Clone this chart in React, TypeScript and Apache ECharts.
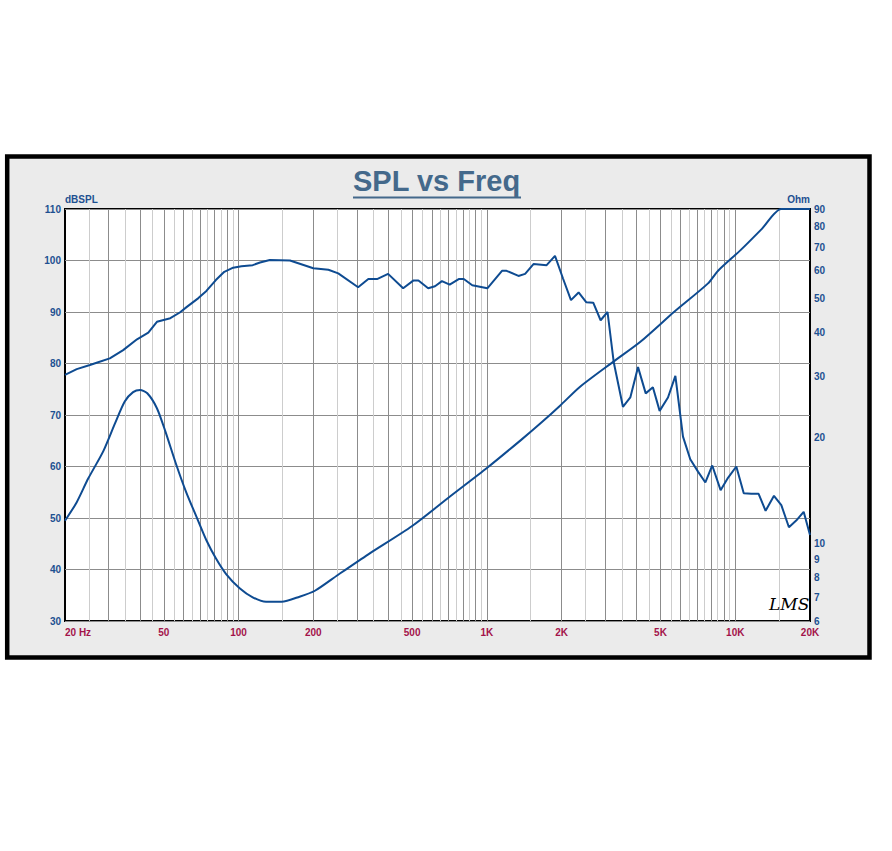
import React, { useEffect, useRef } from "react";
import * as echarts from "echarts";

// SPL response (Hz, dB SPL) — left axis
const splFreq = [
  20, 22.3, 25.2, 27, 30.3, 34.3, 39, 43.3, 46.9, 53.1, 58, 61.9, 68.9, 74.2, 81, 87.6, 95.1,
  102.7, 114, 122, 133.6, 161, 200, 230, 252, 303, 333, 361, 400, 460, 505, 530, 580, 618, 659,
  708, 770, 807, 873, 1004, 1150, 1200, 1340, 1425, 1540, 1740, 1880, 2025, 2180, 2340, 2510,
  2680, 2870, 3060, 3240, 3530, 3780, 4060, 4360, 4660, 4960, 5360, 5740, 6160, 6590, 7080,
  7580, 8080, 8730, 9350, 10100, 10820, 11610, 12420, 13250, 14320, 15330, 16450, 17600, 18860,
  20000,
];
const splDb = [
  77.8, 78.9, 79.7, 80.2, 81.0, 82.6, 84.7, 86.0, 88.1, 88.8, 89.9, 91.0, 92.7, 94.1, 96.2, 97.8,
  98.6, 98.9, 99.1, 99.6, 100.1, 100.0, 98.5, 98.2, 97.5, 94.8, 96.4, 96.4, 97.4, 94.6, 96.1,
  96.1, 94.6, 95.0, 96.0, 95.3, 96.4, 96.4, 95.2, 94.6, 98.0, 98.0, 97.0, 97.4, 99.3, 99.1,
  100.9, 96.5, 92.3, 93.8, 91.9, 91.8, 88.4, 90.0, 80.3, 71.6, 73.4, 79.3, 74.2, 75.4, 70.8,
  73.4, 77.6, 65.8, 61.4, 59.0, 56.9, 60.2, 55.4, 57.8, 60.0, 54.8, 54.7, 54.7, 51.4, 54.3,
  52.5, 48.2, 49.5, 51.2, 46.7,
];

// Impedance (Hz, Ohm) — right axis
const impFreq = [
  20, 22.3, 24.8, 28.5, 31.8, 34.8, 37.6, 40.1, 42.9, 46.9, 50.8, 55.9, 61.5, 67.7, 74.2, 81,
  89.1, 101, 114, 129, 149, 176, 203, 251, 333, 500, 710, 1000, 1370, 1644, 1970, 2360, 3232,
  4150, 5680, 7770, 8530, 10530, 12800, 15300, 17500, 20000,
];
const impOhm = [
  11.6, 13.1, 15.3, 18.3, 22.0, 25.4, 27.0, 27.4, 26.8, 24.3, 20.8, 16.9, 14.0, 11.9, 10.2, 9.06,
  8.17, 7.44, 7.01, 6.81, 6.81, 7.04, 7.32, 8.12, 9.3, 11.2, 13.6, 16.4, 19.7, 22.0, 24.7, 27.9,
  33.0, 37.6, 45.8, 55.2, 60.0, 68.8, 79.0, 90, 90, 90,
];

// Axis ticks
const freqTicks = [20, 50, 100, 200, 500, 1000, 2000, 5000, 10000, 20000];
const freqTickLabels = ["20 Hz", "50", "100", "200", "500", "1K", "2K", "5K", "10K", "20K"];
const ohmTicks = [6, 7, 8, 9, 10, 20, 30, 40, 50, 60, 70, 80, 90];

// Vertical grid lines
const majorGridFreqs = [
  30, 40, 50, 60, 70, 80, 90, 100, 200, 300, 400, 500, 600, 700, 800, 900, 1000, 2000, 3000,
  4000, 5000, 6000, 7000, 8000, 9000, 10000,
];
const minorGridFreqs = [
  25, 35, 45, 55, 65, 75, 85, 95, 150, 250, 350, 450, 550, 650, 750, 850, 950, 1500, 2500, 3500,
  4500, 5500, 6500, 7500, 8500, 9500, 15000,
];

const LINE_BLUE = "#0e4b91";
const LABEL_BLUE = "#1d5091";
const LABEL_RED = "#a3134a";
const TITLE_BLUE = "#44698b";
const FONT = "'Liberation Sans', Arial, sans-serif";

export default function App() {
  const ref = useRef<HTMLDivElement>(null);

  useEffect(() => {
    if (!ref.current) return;
    const chart = echarts.init(ref.current, undefined, { renderer: "svg" });

    const labelBase = { fontFamily: FONT, fontWeight: "bold" as const, fontSize: 10 };

    const gridSeries = (freqs: number[], color: string) => ({
      type: "line",
      data: [],
      silent: true,
      z: 1,
      xAxisIndex: 0,
      yAxisIndex: 0,
      markLine: {
        silent: true,
        symbol: ["none", "none"],
        label: { show: false },
        emphasis: { disabled: true },
        lineStyle: { color, width: 1, type: "solid" },
        data: freqs.map((f) => ({ xAxis: f })),
      },
    });

    chart.setOption({
      animation: false,
      backgroundColor: "#ffffff",
      title: {
        text: "SPL vs Freq",
        left: 353,
        top: 166,
        padding: 0,
        textStyle: { fontFamily: FONT, fontWeight: "bold", fontSize: 29, color: TITLE_BLUE },
      },
      graphic: [
        {
          type: "rect",
          z: -10,
          silent: true,
          shape: { x: 7.2, y: 156.5, width: 862.3, height: 501 },
          style: { fill: "#ebebeb", stroke: "#000000", lineWidth: 4.5 },
        },
        {
          type: "line",
          silent: true,
          shape: { x1: 353, y1: 197.5, x2: 521, y2: 197.5 },
          style: { stroke: TITLE_BLUE, lineWidth: 2 },
        },
        {
          type: "text",
          silent: true,
          z: 10,
          x: 769,
          y: 595,
          style: { text: "LMS", font: "italic 17px 'DejaVu Serif'", fill: "#000000" },
        },
      ],
      grid: {
        left: 65,
        top: 209,
        width: 745,
        height: 412,
        show: true,
        backgroundColor: "#ffffff",
        borderColor: "#000000",
        borderWidth: 2,
        z: 0,
      },
      xAxis: {
        type: "log",
        logBase: 10,
        min: 20,
        max: 20000,
        axisLine: { show: false },
        axisTick: { show: false },
        splitLine: { show: false },
        axisLabel: {
          ...labelBase,
          color: LABEL_RED,
          margin: 6,
          customValues: freqTicks,
          alignMinLabel: "left",
          formatter: (v: number) => {
            const i = freqTicks.findIndex((t) => Math.abs(t - v) / t < 0.01);
            return i >= 0 ? freqTickLabels[i] : "";
          },
        },
      },
      yAxis: [
        {
          type: "value",
          position: "left",
          min: 30,
          max: 110,
          interval: 10,
          name: "dBSPL",
          nameLocation: "end",
          nameGap: 3,
          nameTextStyle: { ...labelBase, color: LABEL_BLUE, align: "left" },
          axisLine: { show: false },
          axisTick: { show: false },
          splitLine: { show: true, lineStyle: { color: "#8c8c8c", width: 1 } },
          axisLabel: { ...labelBase, color: LABEL_BLUE, margin: 4 },
        },
        {
          type: "log",
          logBase: 10,
          position: "right",
          min: 6,
          max: 90,
          name: "Ohm",
          nameLocation: "end",
          nameGap: 3,
          nameTextStyle: { ...labelBase, color: LABEL_BLUE, align: "right" },
          axisLine: { show: false },
          axisTick: { show: false },
          splitLine: { show: false },
          axisLabel: {
            ...labelBase,
            color: LABEL_BLUE,
            margin: 4,
            customValues: ohmTicks,
            formatter: (v: number) => String(Math.round(v)),
          },
        },
      ],
      series: [
        gridSeries(minorGridFreqs, "#cdcdcd"),
        gridSeries(majorGridFreqs, "#8c8c8c"),
        {
          name: "SPL",
          type: "line",
          xAxisIndex: 0,
          yAxisIndex: 0,
          z: 5,
          symbol: "none",
          silent: true,
          lineStyle: { color: LINE_BLUE, width: 2 },
          data: splFreq.map((f, i) => [f, splDb[i]]),
        },
        {
          name: "Impedance",
          type: "line",
          xAxisIndex: 0,
          yAxisIndex: 1,
          z: 5,
          symbol: "none",
          silent: true,
          smooth: 0.25,
          lineStyle: { color: LINE_BLUE, width: 2 },
          data: impFreq.map((f, i) => [f, impOhm[i]]),
        },
      ],
    });

    return () => chart.dispose();
  }, []);

  return (
    <div
      ref={ref}
      style={{ position: "fixed", left: 0, top: 0, width: 892, height: 851 }}
    />
  );
}
